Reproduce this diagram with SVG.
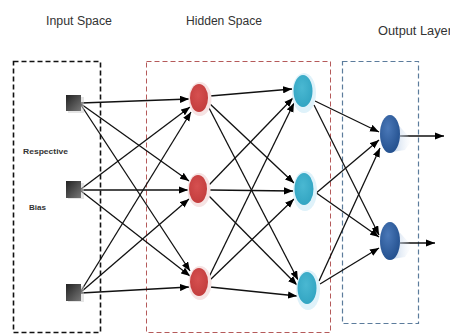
<svg xmlns="http://www.w3.org/2000/svg" width="450" height="335" viewBox="0 0 450 335">
<defs>
<style>
.lbl{font-family:"Liberation Sans",Arial,sans-serif;font-size:12px;fill:#333}
.small{font-family:"Liberation Sans",Arial,sans-serif;font-size:8px;font-weight:bold;fill:#333}
.c line{stroke:#111;stroke-width:1.3;marker-end:url(#ah)}
.box{fill:none}
.halo-r{fill:#f6e3e3}
.halo-c{fill:#dff2fa}
</style>
<marker id="ah" viewBox="0 0 10 8" refX="10" refY="4" markerWidth="9" markerHeight="7.5" markerUnits="userSpaceOnUse" orient="auto">
<path d="M0,0 L10,4 L0,8 z" fill="#000"/>
</marker>
<linearGradient id="gsq" x1="0" y1="0" x2="1" y2="1">
<stop offset="0" stop-color="#222"/>
<stop offset="1" stop-color="#777"/>
</linearGradient>
<radialGradient id="gred" cx="0.45" cy="0.4" r="0.7">
<stop offset="0" stop-color="#d65050"/>
<stop offset="1" stop-color="#c03a3a"/>
</radialGradient>
<radialGradient id="gcy" cx="0.45" cy="0.4" r="0.7">
<stop offset="0" stop-color="#4ab8d2"/>
<stop offset="1" stop-color="#2fa2c0"/>
</radialGradient>
<radialGradient id="gbl" cx="0.4" cy="0.35" r="0.75">
<stop offset="0" stop-color="#4a78b8"/>
<stop offset="1" stop-color="#1f4c8a"/>
</radialGradient>
<linearGradient id="gsh" x1="0" y1="0" x2="1" y2="0">
<stop offset="0" stop-color="#b8cde6" stop-opacity="0.9"/>
<stop offset="1" stop-color="#e6eef8" stop-opacity="0"/>
</linearGradient>
</defs>
<rect width="450" height="335" fill="#fff"/>

<text class="lbl" x="46" y="25" textLength="66" lengthAdjust="spacingAndGlyphs">Input Space</text>
<text class="lbl" x="186" y="25" textLength="76" lengthAdjust="spacingAndGlyphs">Hidden Space</text>
<text class="lbl" x="378" y="35" textLength="74" lengthAdjust="spacingAndGlyphs">Output Layer</text>

<g id="input-box"><rect class="box" x="13.5" y="61.5" width="87" height="271" stroke="#111" stroke-width="1.6" stroke-dasharray="5,3"/></g>
<g id="hidden-box"><rect class="box" x="146.5" y="61.5" width="184" height="271" stroke="#b55a5a" stroke-width="1" stroke-dasharray="5,3"/></g>
<g id="output-box"><rect class="box" x="342.5" y="61.5" width="76" height="262" stroke="#5c7c9c" stroke-width="1.2" stroke-dasharray="5,3"/></g>

<text class="small" x="23" y="154" textLength="45" lengthAdjust="spacingAndGlyphs">Respective</text>
<text class="small" x="29" y="210" textLength="17" lengthAdjust="spacingAndGlyphs">Bias</text>

<g class="c" id="connectors">
<line x1="81" y1="103" x2="189" y2="99"/>
<line x1="81" y1="104" x2="189" y2="181"/>
<line x1="81" y1="105" x2="190" y2="271"/>
<line x1="81" y1="189" x2="190" y2="107"/>
<line x1="81" y1="190" x2="188" y2="190"/>
<line x1="81" y1="191" x2="190" y2="276"/>
<line x1="81" y1="291" x2="191" y2="112"/>
<line x1="81" y1="292" x2="189" y2="199"/>
<line x1="81" y1="293" x2="189" y2="287"/>

<line x1="210" y1="96" x2="292" y2="89"/>
<line x1="209" y1="103" x2="294" y2="183"/>
<line x1="208" y1="106" x2="298" y2="280"/>
<line x1="209" y1="185" x2="293" y2="98"/>
<line x1="210" y1="190" x2="293" y2="191"/>
<line x1="209" y1="196" x2="297" y2="285"/>
<line x1="209" y1="277" x2="294" y2="103"/>
<line x1="210" y1="280" x2="294" y2="199"/>
<line x1="210" y1="287" x2="297" y2="296"/>

<line x1="315" y1="101" x2="379" y2="132"/>
<line x1="314" y1="105" x2="379" y2="235"/>
<line x1="315" y1="194" x2="379" y2="140"/>
<line x1="315" y1="192" x2="379" y2="237"/>
<line x1="319" y1="281" x2="380" y2="148"/>
<line x1="320" y1="284" x2="379" y2="248"/>

<line x1="400" y1="136" x2="444" y2="136"/>
<line x1="400" y1="243" x2="435" y2="243"/>
</g>

<g id="in1"><rect x="68" y="97" width="16" height="16" fill="#ccc" opacity="0.5"/><rect x="66" y="95" width="15" height="16" fill="url(#gsq)"/></g>
<g id="in2"><rect x="68" y="183" width="16" height="16" fill="#ccc" opacity="0.5"/><rect x="66" y="181" width="15" height="17" fill="url(#gsq)"/></g>
<g id="in3"><rect x="68" y="286" width="16" height="16" fill="#ccc" opacity="0.5"/><rect x="66" y="284" width="15" height="17" fill="url(#gsq)"/></g>

<g id="h1"><ellipse class="halo-r" cx="200" cy="99" rx="11.5" ry="17"/><ellipse cx="199" cy="98" rx="9" ry="14" fill="url(#gred)"/></g>
<g id="h2"><ellipse class="halo-r" cx="199" cy="190" rx="11.5" ry="17"/><ellipse cx="198" cy="189" rx="9" ry="14" fill="url(#gred)"/></g>
<g id="h3"><ellipse class="halo-r" cx="200" cy="283" rx="11.5" ry="17"/><ellipse cx="199" cy="282" rx="9" ry="14" fill="url(#gred)"/></g>

<g id="c1"><ellipse class="halo-c" cx="304" cy="93" rx="12" ry="20"/><ellipse cx="303" cy="91" rx="9.5" ry="16" fill="url(#gcy)"/></g>
<g id="c2"><ellipse class="halo-c" cx="305" cy="191" rx="12" ry="20"/><ellipse cx="304" cy="189" rx="9.5" ry="16" fill="url(#gcy)"/></g>
<g id="c3"><ellipse class="halo-c" cx="308" cy="290" rx="12" ry="20"/><ellipse cx="307" cy="288" rx="9.5" ry="16" fill="url(#gcy)"/></g>

<g id="o1"><path d="M392,118 L412,140 L405,150 L392,152 z" fill="url(#gsh)"/><ellipse cx="390" cy="134" rx="10" ry="19" fill="url(#gbl)"/></g>
<g id="o2"><path d="M392,224 L412,246 L405,257 L392,259 z" fill="url(#gsh)"/><ellipse cx="390" cy="241" rx="10" ry="19" fill="url(#gbl)"/></g>
</svg>
